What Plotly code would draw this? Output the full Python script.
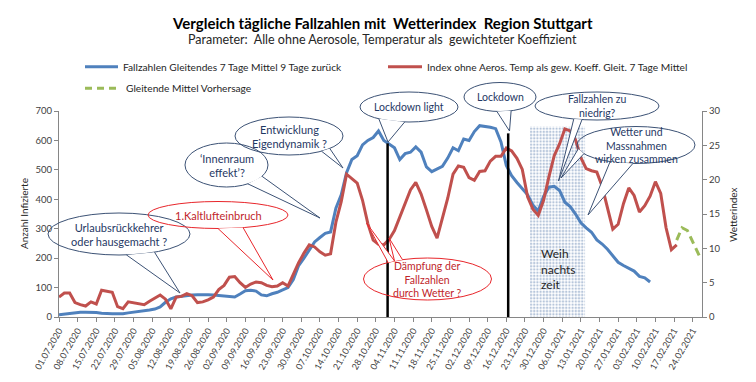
import math
import pandas as pd
import plotly.graph_objects as go

# ---------------- data ----------------
start_date = "2020-07-01"          # first category, values every 2 days

cases_7d = [  # Fallzahlen, gleitendes 7-Tage-Mittel (left axis)
    8, 10, 12, 15, 16, 16, 16, 15, 13, 11,
    11, 11, 11, 14, 16, 18, 21, 24, 27, 34,
    50, 62, 68, 71, 73, 75, 76, 77, 76, 75,
    73, 70, 69, 68, 78, 89, 91, 88, 75, 72,
    79, 84, 92, 100, 127, 175, 200, 228, 255, 270,
    284, 289, 370, 415, 490, 535, 548, 585, 600, 610,
    632, 600, 588, 575, 535, 555, 560, 578, 560, 510,
    494, 504, 512, 540, 575, 565, 605, 600, 630, 650,
    648, 645, 640, 595, 515, 480, 457, 435, 415, 380,
    360, 410, 441, 444, 430, 390, 375, 350, 320, 303,
    288, 262, 248, 230, 207, 186, 175, 165, 156, 138,
    133, 119,
]

weather_index = [  # Index ohne Aerosole (right axis)
    2.9, 3.5, 3.5, 2.1, 1.8, 1.6, 2.2, 1.9, 3.9, 3.7,
    3.6, 1.5, 1.2, 2.2, 2.1, 1.9, 1.8, 2.3, 2.8, 3.2,
    2.6, 1.2, 2.9, 3.0, 3.4, 3.1, 2.1, 2.2, 2.5, 2.9,
    4.0, 4.6, 5.8, 5.9, 5.0, 4.3, 4.8, 5.1, 5.0, 4.6,
    4.4, 4.5, 5.0, 4.5, 6.2, 7.9, 9.3, 10.5, 10.2, 9.5,
    9.0, 9.2, 13.8, 16.8, 20.8, 20.1, 19.5, 17.0, 13.6, 11.2,
    10.6, 10.5, 11.3, 12.6, 14.5, 16.5, 18.5, 19.6, 17.9, 15.6,
    13.2, 11.5, 14.3, 17.3, 20.8, 22.0, 21.8, 20.3, 19.9, 21.2,
    21.3, 22.7, 23.4, 23.4, 24.6, 24.2, 23.1, 21.5, 17.5, 15.7,
    14.8, 17.0, 20.4, 23.5, 25.2, 27.4, 27.1, 25.8, 23.2, 21.6,
    21.3, 21.1, 19.0, 15.9, 12.8, 13.5, 16.5, 18.8, 17.7, 15.3,
    16.2, 17.6, 19.7, 18.0, 13.0, 9.8, 10.5,
]

forecast_dates = ["2021-02-18", "2021-02-20", "2021-02-22", "2021-02-24", "2021-02-26", "2021-02-27"]
forecast_index = [11.2, 13.0, 12.6, 11.0, 9.2, 8.5]

lockdown_dates = ["2020-11-01 10:00", "2020-12-16 17:00"]
lockdown_tops = [590, 624]
xmas_start, xmas_end, xmas_top = "2020-12-24 22:00", "2021-01-14 14:00", 647

x_end = "2021-02-27 12:00"

case_dates = pd.date_range(start_date, periods=len(cases_7d), freq="2D")
index_dates = pd.date_range(start_date, periods=len(weather_index), freq="2D")

BLUE = "#4F81BD"
RED = "#C0504D"
GREEN = "#9BBB59"
AXIS = "#868686"
FONT = "Lato, 'Open Sans', sans-serif"

# ---------------- figure ----------------
fig = go.Figure()

fig.add_trace(go.Scatter(
    x=[xmas_start, xmas_end, xmas_end, xmas_start, xmas_start],
    y=[0, 0, xmas_top, xmas_top, 0],
    mode="lines", line=dict(width=0), fill="toself",
    fillcolor="rgba(255,255,255,0)",
    fillpattern=dict(shape=".", fgcolor="#6F8DB8", bgcolor="white", size=3.2, solidity=0.45),
    hoverinfo="skip", showlegend=False))

fig.add_trace(go.Scatter(x=case_dates, y=cases_7d, mode="lines",
                         line=dict(color=BLUE, width=3), showlegend=False))
fig.add_trace(go.Scatter(x=index_dates, y=weather_index, mode="lines", yaxis="y2",
                         line=dict(color=RED, width=3), showlegend=False))
fig.add_trace(go.Scatter(x=forecast_dates, y=forecast_index, mode="lines", yaxis="y2",
                         line=dict(color=GREEN, width=3, dash="8px,5px"), showlegend=False))

# ---------------- pixel helpers for decorations ----------------
L, R, T, B = 59, 702, 111, 317


def px(x):
    return (x - L) / (R - L)


def py(y):
    return (B - y) / (B - T)


shapes = []
annotations = []


def note(x, y, text, size, color, xanchor="center", bold=False, angle=0, align="center"):
    annotations.append(dict(xref="paper", yref="paper", x=px(x), y=py(y),
                            xanchor=xanchor, yanchor="middle", textangle=angle,
                            text=f"<b>{text}</b>" if bold else text, showarrow=False,
                            align=align, font=dict(size=size, color=color, family=FONT)))


for d, top in zip(lockdown_dates, lockdown_tops):
    shapes.append(dict(type="line", xref="x", yref="y", x0=d, x1=d, y0=-9, y1=top,
                       line=dict(color="black", width=2.5), layer="above"))


def callout(cx, cy, rx, ry, lines, tcolor, lcolor, tails, size=10.5):
    shapes.append(dict(type="circle", xref="paper", yref="paper",
                       x0=px(cx - rx), x1=px(cx + rx), y0=py(cy + ry), y1=py(cy - ry),
                       line=dict(color=lcolor, width=1), fillcolor="rgba(255,255,255,0)",
                       layer="above"))
    for a1, a2, tx, ty in tails:
        ax = cx + rx * math.cos(math.radians(a1))
        ay = cy + ry * math.sin(math.radians(a1))
        bx = cx + rx * math.cos(math.radians(a2))
        by = cy + ry * math.sin(math.radians(a2))
        path = f"M {px(ax)},{py(ay)} L {px(tx)},{py(ty)} L {px(bx)},{py(by)}"
        shapes.append(dict(type="path", xref="paper", yref="paper", path=path,
                           line=dict(color=lcolor, width=1), fillcolor="white", layer="above"))
    note(cx, cy, "<br>".join(lines), size, tcolor)


NAVY_T = "#1F3864"
NAVY_L = "#3C5275"
RED_T = "#C0262B"
RED_L = "#E8262B"

callout(119, 234, 71, 21, ["Urlaubsrückkehrer", "oder hausgemacht ?"], NAVY_T, NAVY_L,
        [(84, 60, 180, 293)], size=11)
callout(218, 215, 70, 13.5, ["1.Kaltlufteinbruch"], RED_T, RED_L,
        [(90, 69, 273, 280)], size=11)
callout(226.5, 165, 41.5, 22, ["‘Innenraum", "effekt’?"], NAVY_T, NAVY_L,
        [(59, 31, 320, 218)], size=11)
callout(289, 136, 54, 19, ["Entwicklung", "Eigendynamik ?"], NAVY_T, NAVY_L,
        [(53, 41, 343, 168)], size=11)
callout(409, 107, 49, 15, ["Lockdown light"], NAVY_T, NAVY_L,
        [(128, 95, 388, 142)], size=10.5)
callout(500, 97, 36, 14.5, ["Lockdown"], NAVY_T, NAVY_L,
        [(95, 72, 509.5, 131)], size=10.5)
callout(597, 106, 62, 14, ["Fallzahlen zu", "niedrig?"], NAVY_T, NAVY_L,
        [(112, 104, 558.5, 181)], size=10.5)
callout(636, 145, 59, 18.5, ["Wetter und", "Massnahmen", "wirken zusammen"], NAVY_T, NAVY_L,
        [(168, 152, 561, 178), (116, 93, 588, 215)], size=10.5)
callout(427.5, 279, 64, 21, ["Dämpfung der", "Fallzahlen", "durch Wetter ?"], RED_T, RED_L,
        [(-128, -121, 366.7, 223.3), (-121, -113, 389, 238)], size=10.5)

# Weihnachtszeit label
note(539, 269, "Weih<br>nachts<br>zeit", 12, "#262626", xanchor="left", align="left")

# titles
note(382, 22.7, "Vergleich tägliche Fallzahlen mit  Wetterindex  Region Stuttgart", 15, "black", bold=True)
note(382, 39.3, "Parameter:  Alle ohne Aerosole, Temperatur als  gewichteter Koeffizient", 12.5, "#262626")

# custom legend
legend_items = [
    (85, 118, 66.7, BLUE, "solid", 121, "Fallzahlen Gleitendes 7 Tage Mittel 9 Tage zurück"),
    (388, 422, 66.7, RED, "solid", 425, "Index ohne Aeros. Temp als gew. Koeff. Gleit. 7 Tage Mittel"),
    (85, 117, 88.3, GREEN, "7px,5px", 124, "Gleitende Mittel Vorhersage"),
]
for x0, x1, yy, col, dash, tx, txt in legend_items:
    shapes.append(dict(type="line", xref="paper", yref="paper", x0=px(x0), x1=px(x1),
                       y0=py(yy), y1=py(yy), line=dict(color=col, width=3, dash=dash)))
    note(tx, yy, txt, 10.2, "#262626", xanchor="left")

# axis titles
note(24, 214, "Anzahl Infizierte", 10, "#262626", angle=-90)
note(733, 215, "Wetterindex", 10, "#262626", angle=-90)

axis_common = dict(showgrid=False, zeroline=False, showline=True, linecolor=AXIS, linewidth=1,
                   ticks="outside", ticklen=4, tickcolor=AXIS, automargin=False,
                   tickfont=dict(size=9.5, color="#404040", family=FONT))

fig.update_layout(
    width=756, height=382,
    margin=dict(l=L, r=756 - R, t=T, b=382 - B, autoexpand=False),
    paper_bgcolor="white", plot_bgcolor="white",
    showlegend=False,
    font=dict(family=FONT, color="#404040"),
    xaxis=dict(type="date", range=[start_date, x_end], tick0=start_date, dtick=7 * 86400000,
               tickformat="%d.%m.%Y", tickangle=-60,
               **{**axis_common, "tickfont": dict(size=9, color="#404040", family=FONT)}),
    yaxis=dict(range=[0, 700], dtick=100, **axis_common),
    yaxis2=dict(range=[0, 30], dtick=5, overlaying="y", side="right", **axis_common),
    shapes=shapes,
    annotations=annotations,
)

fig.write_html("out.html", config={"displayModeBar": False},
               post_script="document.body.style.margin='0px';")
